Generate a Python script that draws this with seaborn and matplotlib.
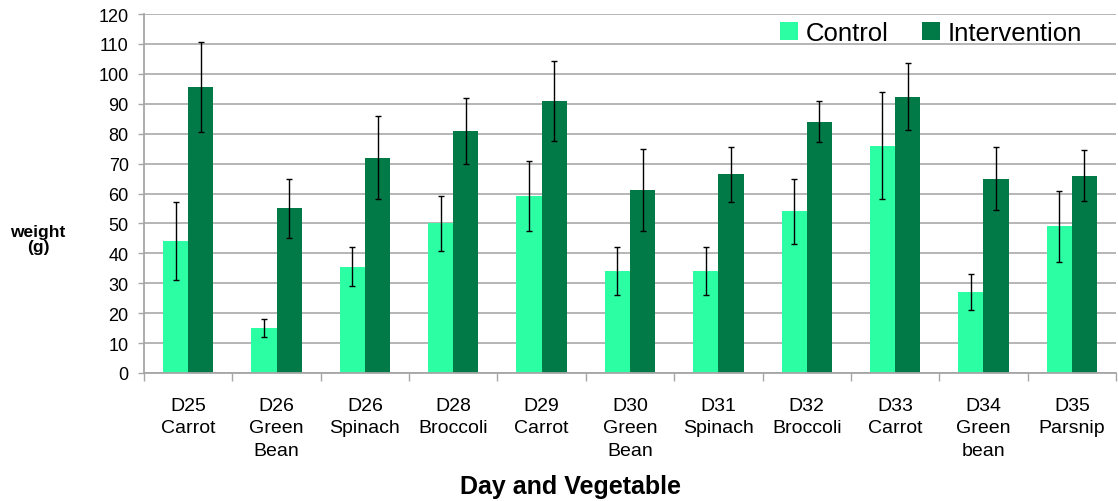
import numpy as np
import pandas as pd
import matplotlib
matplotlib.use("Agg")
import matplotlib.pyplot as plt
import seaborn as sns

# data
categories = ["D25\nCarrot", "D26\nGreen\nBean", "D26\nSpinach", "D28\nBroccoli",
              "D29\nCarrot", "D30\nGreen\nBean", "D31\nSpinach", "D32\nBroccoli",
              "D33\nCarrot", "D34\nGreen\nbean", "D35\nParsnip"]
control = [44, 15, 35.5, 50, 59, 34, 34, 54, 76, 27, 49]
control_err = [13, 3, 6.5, 9.3, 11.7, 8, 8, 11, 17.8, 6, 12]
intervention = [95.5, 55, 72, 81, 91, 61.3, 66.4, 84, 92.4, 65, 66]
intervention_err = [15, 10, 14, 11, 13.4, 13.7, 9.3, 6.8, 11.3, 10.5, 8.6]
groups = ["Control", "Intervention"]
colors = ["#2CFFA3", "#017A48"]

df = pd.DataFrame({
    "cat": categories * 2,
    "group": ["Control"] * len(categories) + ["Intervention"] * len(categories),
    "weight": control + intervention,
})
errs = {"Control": control_err, "Intervention": intervention_err}

sns.set_style("white")
plt.rcParams["font.family"] = ["Liberation Sans", "DejaVu Sans"]
plt.rcParams["text.color"] = "black"
plt.rcParams["xtick.color"] = "black"
plt.rcParams["ytick.color"] = "black"

fig = plt.figure(figsize=(11.18, 5.02), dpi=100)
ax = fig.add_axes([144 / 1118, 1 - 374 / 502, (1116 - 144) / 1118, (374 - 15) / 502])

sns.barplot(data=df, x="cat", y="weight", hue="group", palette=colors,
            saturation=1, width=0.57, errorbar=None, linewidth=0, ax=ax, zorder=2)

# error bars on each bar
for cont, g in zip(ax.containers, groups):
    xs = [p.get_x() + p.get_width() / 2 for p in cont]
    hs = [p.get_height() for p in cont]
    ax.errorbar(xs, hs, yerr=errs[g], fmt="none", ecolor="black",
                elinewidth=1, capsize=2.5, capthick=1, zorder=3)

ax.set_ylim(0, 120)
ax.set_xlim(-0.5, len(categories) - 0.5)
ax.set_yticks(np.arange(0, 121, 10))
ax.yaxis.grid(True, color="#b0b0b0", linewidth=1.3, zorder=0)
ax.set_axisbelow(True)

for s in ["top", "right"]:
    ax.spines[s].set_visible(False)
for s in ["left", "bottom"]:
    ax.spines[s].set_color("#a6a6a6")
    ax.spines[s].set_linewidth(1.3)

ax.tick_params(axis="y", length=4, color="#a6a6a6", labelcolor="black", width=1,
               pad=7, labelsize=13, direction="out", left=True)
ax.tick_params(axis="x", which="major", length=0, pad=17, labelsize=14, labelcolor="black")
ax.set_xticks(np.arange(-0.5, len(categories)), minor=True)
ax.tick_params(axis="x", which="minor", length=6, color="#a6a6a6", width=1,
               direction="out", bottom=True)
for t in ax.get_xticklabels():
    t.set_linespacing(1.42)

ax.set_xlabel("")
ax.set_ylabel("")
fig.text(570 / 1118, 1 - 487 / 502, "Day and Vegetable", ha="center", va="center",
         fontsize=18, fontweight="bold")
fig.text(38 / 1118, 1 - 240 / 502, "weight\n(g)", ha="center", va="center",
         fontsize=12.5, fontweight="bold", linespacing=1.05)

ax.legend(loc="center right", bbox_to_anchor=(1095 / 1118, 1 - 34 / 502),
          bbox_transform=fig.transFigure, ncol=2, frameon=False, fontsize=18.5,
          handlelength=0.7, handleheight=0.7, handletextpad=0.3,
          columnspacing=1.3, borderpad=0)

fig.savefig("out.png", dpi=100)
